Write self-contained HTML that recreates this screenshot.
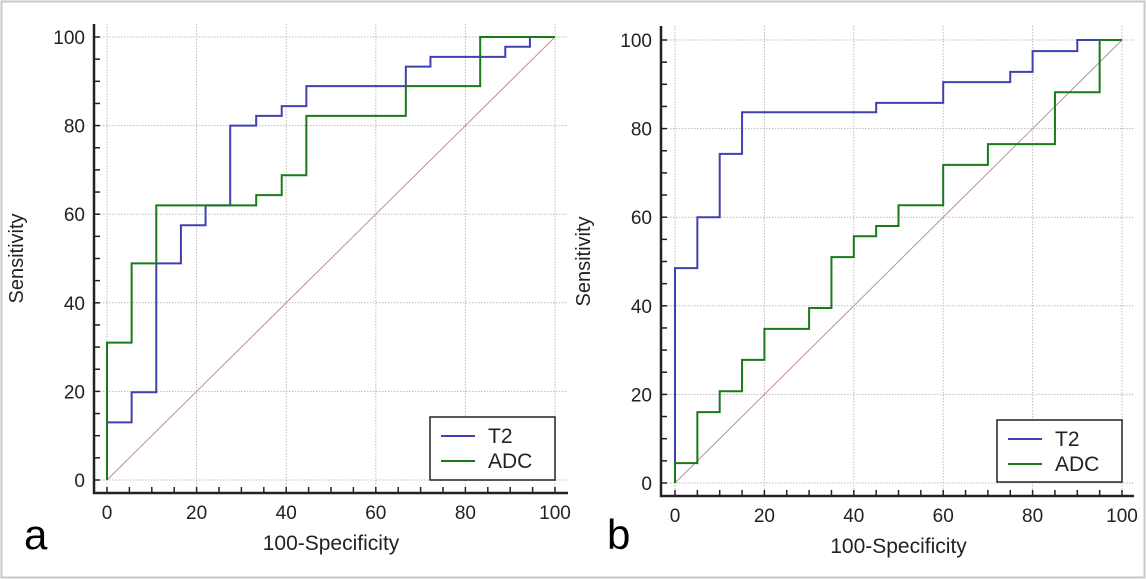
<!DOCTYPE html>
<html><head><meta charset="utf-8"><style>
html,body{margin:0;padding:0;background:#fff}
svg{display:block;font-family:"Liberation Sans",Arial,sans-serif}
</style></head><body>
<svg id="fig" width="1146" height="579" viewBox="0 0 1146 579" xmlns="http://www.w3.org/2000/svg">
<rect x="1.5" y="1.5" width="1143" height="576" fill="#fff" stroke="#c8c8c8" stroke-width="2"/>
</svg>
<script>
const ticks=[0,20,40,60,80,100];
const seriesNames=["T2","ADC"];
// panel a
const aT2x=[0,5.5,11,16.5,22,27.5,33.3,39,44.5,66.7,72.2,88.9,94.4,100];
const aT2y=[13,19.8,48.9,57.5,62,80,82.2,84.4,88.9,93.3,95.5,97.8,100,100];
const aADCx=[0,5.5,11,33.3,39,44.5,66.7,83.3,100];
const aADCy=[31,48.9,62,64.3,68.8,82.2,88.9,100,100];
// panel b
const bT2x=[0,5,10,15,45,60,75,80,90,100];
const bT2y=[48.5,60,74.3,83.7,85.8,90.5,92.8,97.5,100,100];
const bADCx=[0,5,10,15,20,30,35,40,45,50,60,70,85,95,100];
const bADCy=[4.5,16,20.7,27.8,34.8,39.5,51,55.7,58,62.7,71.8,76.5,88.2,100,100];

const NS="http://www.w3.org/2000/svg";
const svg=document.getElementById('fig');
function mk(tag,attrs,parent){const e=document.createElementNS(NS,tag);for(const k in attrs)e.setAttribute(k,attrs[k]);(parent||svg).appendChild(e);return e;}

function panel(p){
  const g=mk('g',{});
  
  
  const X=v=>p.x0+(p.x1-p.x0)*v/100, Y=v=>p.y0+(p.y1-p.y0)*v/100;
  ticks.forEach(t=>{
    const gl=mk('line',{x1:X(t),x2:X(t),y1:p.top,y2:p.axY,stroke:'#bbb','stroke-dasharray':'1.5,1.5','stroke-width':1},g);
    
    
    const hl=mk('line',{x1:p.axX,x2:p.right,y1:Y(t),y2:Y(t),stroke:'#bbb','stroke-dasharray':'1.5,1.5','stroke-width':1},g);
    
    
  });
  for(let t=0;t<=100;t+=5){
    mk('line',{x1:X(t),x2:X(t),y1:p.axY,y2:p.axY-6,stroke:'#222','stroke-width':1.5},g);
    mk('line',{x1:p.axX,x2:p.axX+6,y1:Y(t),y2:Y(t),stroke:'#222','stroke-width':1.5},g);
  }
  const ax=mk('path',{d:`M${p.axX},${p.top}V${p.axY}H${p.right}`,fill:'none',stroke:'#222','stroke-width':2.5},g);
  
  
  ticks.forEach(t=>{
    const tx=mk('text',{x:X(t),y:p.axY+26,'text-anchor':'middle','font-size':19,fill:'#222'},g);
    tx.textContent=t;
    
    
    const ty=mk('text',{x:p.axX-9,y:Y(t)+7,'text-anchor':'end','font-size':19,fill:'#222'},g);
    ty.textContent=t;
    
    
  });
  const dg=mk('line',{x1:X(0),y1:Y(0),x2:X(100),y2:Y(100),stroke:'#c09090','stroke-width':1},g);
  
  
  [[p.t2x,p.t2y,'#4040b0','t2-roc-curve'],[p.adx,p.ady,'#1a7a1a','adc-roc-curve']].forEach(s=>{
    let d=`M${X(0)},${Y(0)}`;
    s[0].forEach((xv,i)=>{d+=`H${X(xv)}V${Y(s[1][i])}`;});
    const pa=mk('path',{d:d,fill:'none',stroke:s[2],'stroke-width':2},g);
    
    
  });
  const L=p.leg;
  const lb=mk('rect',{x:L[0],y:L[1],width:L[2],height:L[3],fill:'#fff',stroke:'#222','stroke-width':1.5},g);
  
  
  seriesNames.forEach((n,i)=>{
    const yy=L[1]+19+i*25;
    mk('line',{x1:L[0]+11,x2:L[0]+45,y1:yy,y2:yy,stroke:i?'#1a7a1a':'#4040b0','stroke-width':2},g);
    const lt=mk('text',{x:L[0]+58,y:yy+7,'font-size':21,fill:'#222'},g);
    lt.textContent=n;
    
    
  });
  const xt=mk('text',{x:(X(0)+X(100))/2,y:p.axY+57,'text-anchor':'middle','font-size':21,fill:'#222'},g);
  xt.textContent='100-Specificity';
  
  
  const yc=(Y(0)+Y(100))/2;
  const yt=mk('text',{x:p.ytx,y:yc,'text-anchor':'middle','font-size':20,fill:'#222',transform:`rotate(-90 ${p.ytx} ${yc})`},g);
  yt.textContent='Sensitivity';
  
  
  const pl=mk('text',{x:p.lx,y:549,'font-size':42,fill:'#000'},g);
  pl.textContent=p.label;
  
  
}
panel({name:'panel-a',x0:107,x1:555,y0:480,y1:37,axX:94,axY:493,top:24,right:568,
  t2x:aT2x,t2y:aT2y,adx:aADCx,ady:aADCy,leg:[430,417,125,63],ytx:23,lx:24,label:'a'});
panel({name:'panel-b',x0:675,x1:1122,y0:483,y1:40,axX:661,axY:496,top:26,right:1134,
  t2x:bT2x,t2y:bT2y,adx:bADCx,ady:bADCy,leg:[997,420,125,62],ytx:590,lx:607,label:'b'});
</script>
</body></html>
